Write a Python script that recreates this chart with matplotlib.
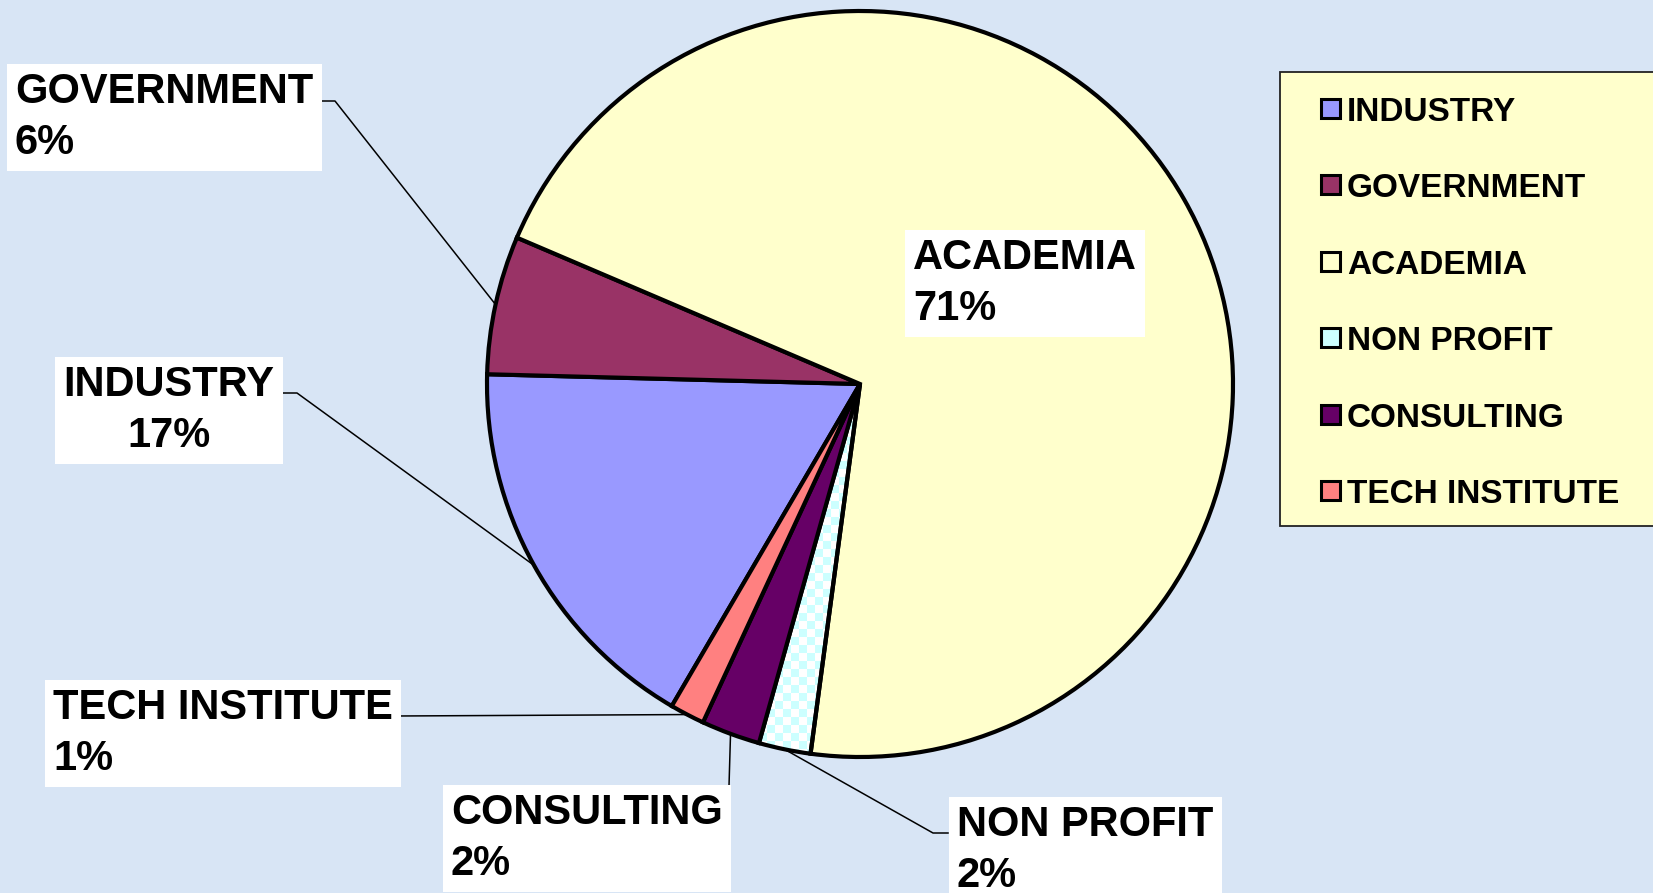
import numpy as np
import matplotlib
matplotlib.use("Agg")
import matplotlib.pyplot as plt
from matplotlib.patches import Rectangle
from matplotlib.colors import ListedColormap

# ---- data ----
categories = ["INDUSTRY", "GOVERNMENT", "ACADEMIA", "NON PROFIT", "CONSULTING", "TECH INSTITUTE"]
shares = [17.0, 6.0, 70.7, 2.25, 2.55, 1.5]
pct_labels = ["17%", "6%", "71%", "2%", "2%", "1%"]
colors = ["#9999FF", "#993366", "#FFFFCC", "none", "#660066", "#FF8080"]
legend_colors = ["#9999FF", "#993366", "#FFFFCC", "#CCFFFF", "#660066", "#FF8080"]

W, H = 1653, 893
BG = "#D8E5F5"
FONT = ["Liberation Sans", "DejaVu Sans"]

fig = plt.figure(figsize=(W / 100, H / 100), dpi=100, facecolor=BG)
ax = fig.add_axes([0, 0, 1, 1])
ax.set_facecolor("none")

cx, cy, R = 860, H - 384, 373
wedges, _ = ax.pie(shares, colors=colors, startangle=-120.3, counterclock=False,
                   radius=R, center=(cx, cy),
                   wedgeprops=dict(linewidth=3.0, edgecolor="black", joinstyle="miter"))

# checker pattern for NON PROFIT slice
cell = 8
n = int(2 * R / cell) + 2
ii, jj = np.indices((n, n))
checker = ((ii + jj) % 2).astype(float)
cmap = ListedColormap(["#CCFFFF", "#FFFFFF"])
im = ax.imshow(checker, cmap=cmap, extent=(cx - R, cx - R + n * cell, cy - R, cy - R + n * cell),
               interpolation="nearest", zorder=0.5)
im.set_clip_path(wedges[3])
ax.set_xlim(0, W)
ax.set_ylim(0, H)
ax.set_aspect("equal")
ax.axis("off")


def edge_point(w):
    mid = np.deg2rad((w.theta1 + w.theta2) / 2)
    return cx + R * np.cos(mid), cy + R * np.sin(mid)


# label layout (image pixel coords: x, last-line baseline y, ha, leader anchor, elbow)
layout = {
    "INDUSTRY": dict(x=169, y=447, ha="center", anchor=(283, 393), elbow=(297, 393)),
    "GOVERNMENT": dict(x=15, y=154, ha="left", anchor=(320, 101), elbow=(335, 101)),
    "ACADEMIA": dict(x=913, y=320, ha="left", anchor=None, elbow=None),
    "NON PROFIT": dict(x=957, y=887, ha="left", anchor=(948, 833), elbow=(933, 833)),
    "CONSULTING": dict(x=451, y=875, ha="left", anchor=(729, 786), elbow=(729, 786)),
    "TECH INSTITUTE": dict(x=53, y=770, ha="left", anchor=(396, 716), elbow=(396, 716)),
}

for w, cat, pct in zip(wedges, categories, pct_labels):
    L = layout[cat]
    ax.text(L["x"], H - L["y"], f"{cat}\n{pct}", ha=L["ha"], va="baseline",
            multialignment=L["ha"], fontsize=30, fontweight="bold", family=FONT,
            linespacing=1.36, color="black", zorder=5,
            bbox=dict(boxstyle="square,pad=0.2", fc="white", ec="none"))
    if L["anchor"] is not None:
        ex, ey = edge_point(w)
        xs = [L["anchor"][0], L["elbow"][0], ex]
        ys = [H - L["anchor"][1], H - L["elbow"][1], ey]
        ax.plot(xs, ys, color="black", linewidth=1.1, zorder=4)

# legend
ax.add_patch(Rectangle((1280, H - 526), 400, 454, fc="#FFFFCC", ec="#222222",
                       linewidth=1.3, zorder=6, clip_on=False))
for i, (cat, col) in enumerate(zip(categories, legend_colors)):
    base = 121 + i * 76.4
    ax.add_patch(Rectangle((1321, H - base + 3), 19, 19, fc=col, ec="black",
                           linewidth=2.2, zorder=7))
    ax.text(1347, H - base, cat, ha="left", va="baseline", fontsize=24,
            fontweight="bold", family=FONT, color="black", zorder=7)

fig.savefig("out.png", dpi=100, facecolor=BG)
